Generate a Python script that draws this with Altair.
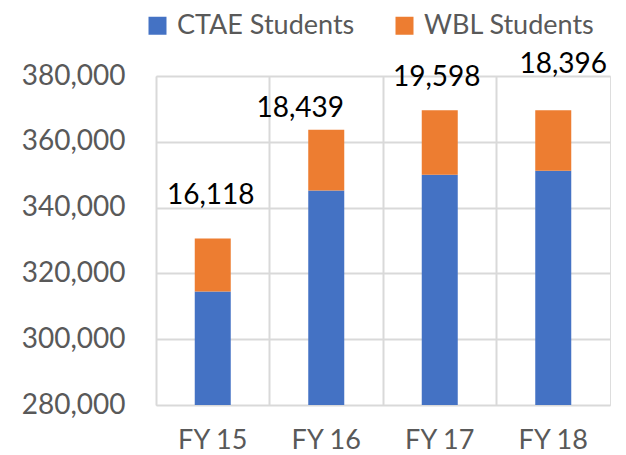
import altair as alt
import pandas as pd

years = ["FY 15", "FY 16", "FY 17", "FY 18"]
ctae = [314500, 345200, 350000, 351200]
wbl = [16118, 18439, 19598, 18396]
series = ["CTAE Students", "WBL Students"]
colors = ["#4472C4", "#ED7D31"]
# vertical positions (data units) where the WBL value labels sit
label_pos = [343400, 369900, 379400, 383400]

rows = []
for y, c, w in zip(years, ctae, wbl):
    rows.append({"year": y, "series": series[0], "value": c, "ord": 0})
    rows.append({"year": y, "series": series[1], "value": w, "ord": 1})
df = pd.DataFrame(rows)
lab = pd.DataFrame({"year": years, "wbl": wbl, "pos": label_pos})

FONT = "Lato"

x = alt.X("year:N", sort=years, title=None,
          scale=alt.Scale(paddingInner=0, paddingOuter=0),
          axis=alt.Axis(grid=True, bandPosition=0, ticks=False, domain=False,
                        labelAngle=0, labelFontSize=27, labelColor="#595959",
                        labelFont=FONT, labelPadding=22, gridColor="#D9D9D9",
                        gridWidth=2))

bars = alt.Chart(df).mark_bar(size=36, clip=True).encode(
    x=x,
    y=alt.Y("sum(value):Q", title=None, stack="zero",
            scale=alt.Scale(domain=[280000, 380000], nice=False, zero=False),
            axis=alt.Axis(values=[280000, 300000, 320000, 340000, 360000, 380000],
                          format=",d", ticks=False, domain=False,
                          labelFontSize=28, labelColor="#595959", labelFont=FONT,
                          labelPadding=31, gridColor="#D9D9D9", gridWidth=2)),
    color=alt.Color("series:N", sort=series,
                    scale=alt.Scale(domain=series, range=colors),
                    legend=alt.Legend(title=None, orient="none", direction="horizontal",
                                      legendX=-12, legendY=-64, symbolType="square",
                                      symbolSize=324, symbolStrokeWidth=0,
                                      labelFontSize=27, labelColor="#595959",
                                      labelFont=FONT, columnPadding=36,
                                      labelOffset=6, labelLimit=0)),
    order=alt.Order("ord:Q"),
)

dxs = {"FY 15": -2, "FY 16": -26, "FY 17": -3, "FY 18": 10}
texts = []
for yr in years:
    t = alt.Chart(lab).transform_filter(alt.datum.year == yr).mark_text(
        fontSize=28, font=FONT, color="#000000", dx=dxs[yr], baseline="middle"
    ).encode(
        x=alt.X("year:N", sort=years),
        y=alt.Y("pos:Q"),
        text=alt.Text("wbl:Q", format=",d"),
    )
    texts.append(t)

chart = alt.layer(bars, *texts).properties(
    width=454, height=329,
    autosize=alt.AutoSizeParams(type="none"),
    padding={"left": 148, "top": 68, "right": 8, "bottom": 50},
).configure_view(stroke="#D9D9D9", strokeWidth=2).configure(background="white")

chart.save("out.html", embed_options={"renderer": "svg", "actions": False})
